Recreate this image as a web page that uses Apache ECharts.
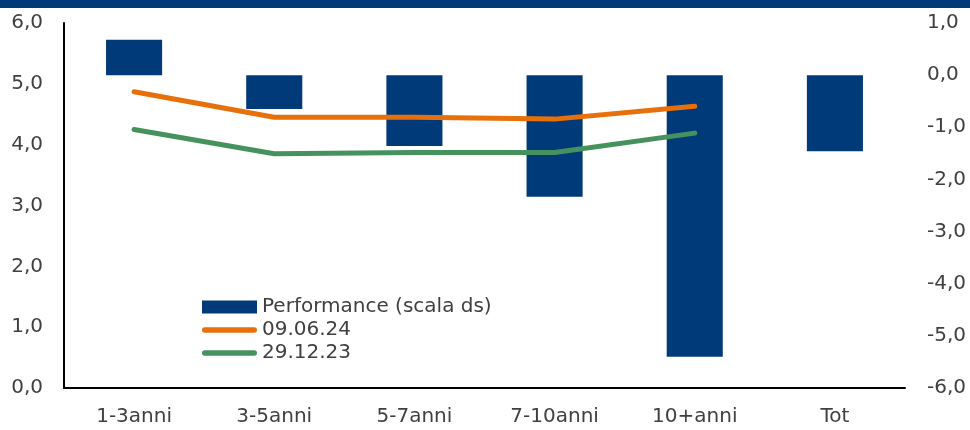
<!DOCTYPE html>
<html>
<head>
<meta charset="utf-8">
<script src="https://cdn.jsdelivr.net/npm/echarts@6/dist/echarts.min.js"></script>
<style>
  html, body { margin: 0; padding: 0; background: #fff; }
  #chart { width: 970px; height: 430px; }
</style>
</head>
<body>
<div id="chart"></div>
<script>
var categories = ['1-3anni', '3-5anni', '5-7anni', '7-10anni', '10+anni', 'Tot'];
var performance = [0.68, -0.65, -1.36, -2.33, -5.40, -1.46];
var serie0906 = [4.87, 4.45, 4.45, 4.42, 4.63, null];
var serie2912 = [4.25, 3.85, 3.87, 3.87, 4.19, null];

var leftTicks = { min: 0, max: 6, interval: 1 };
var rightTicks = { min: -6, max: 1, interval: 1 };

var fontFam = '"DejaVu Sans", sans-serif';
var textCol = '#404040';
// icona legenda: linea spessa con estremi arrotondati
var lineIcon = 'path://M1,0 L19,0 A1,1 0 0 1 19,2 L1,2 A1,1 0 0 1 1,0 Z';

function fmt(v) {
    return v.toFixed(1).replace('.', ',');
}

var myChart = echarts.init(document.getElementById('chart'));
var option = {
    animation: false,
    backgroundColor: '#fff',
    graphic: [
        {
            type: 'rect',
            left: 0,
            top: 0,
            shape: { width: 970, height: 8 },
            style: { fill: '#003a78' }
        }
    ],
    grid: {
        left: 64, right: 65, top: 23, bottom: 42,
        outerBoundsMode: 'none'
    },
    legend: {
        orient: 'vertical',
        left: 197,
        top: 292,
        itemGap: 3,
        itemWidth: 55,
        itemHeight: 13,
        textStyle: { fontFamily: fontFam, fontSize: 20, color: textCol },
        data: [
            { name: 'Performance (scala ds)', icon: 'rect' },
            { name: '09.06.24', icon: lineIcon },
            { name: '29.12.23', icon: lineIcon }
        ]
    },
    xAxis: {
        type: 'category',
        data: categories,
        axisLine: { lineStyle: { color: '#000', width: 2 } },
        axisTick: { show: false },
        axisLabel: { margin: 19, fontFamily: fontFam, fontSize: 20, color: textCol }
    },
    yAxis: [
        {
            type: 'value',
            min: leftTicks.min,
            max: leftTicks.max,
            interval: leftTicks.interval,
            splitLine: { show: false },
            axisTick: { show: false },
            axisLine: { show: true, lineStyle: { color: '#000', width: 2 } },
            axisLabel: { margin: 21, fontFamily: fontFam, fontSize: 20, color: textCol, formatter: fmt }
        },
        {
            type: 'value',
            position: 'right',
            min: rightTicks.min,
            max: rightTicks.max,
            interval: rightTicks.interval,
            splitLine: { show: false },
            axisTick: { show: false },
            axisLine: { show: false },
            axisLabel: {
                margin: 22, align: 'left', fontFamily: fontFam, fontSize: 20,
                color: textCol, formatter: fmt
            }
        }
    ],
    series: [
        {
            name: 'Performance (scala ds)',
            type: 'bar',
            yAxisIndex: 1,
            barWidth: '40%',
            itemStyle: { color: '#003a78' },
            data: performance
        },
        {
            name: '09.06.24',
            type: 'line',
            yAxisIndex: 0,
            symbol: 'none',
            itemStyle: { color: '#e8700a' },
            lineStyle: { color: '#e8700a', width: 5, cap: 'round', join: 'round' },
            data: serie0906
        },
        {
            name: '29.12.23',
            type: 'line',
            yAxisIndex: 0,
            symbol: 'none',
            itemStyle: { color: '#46925f' },
            lineStyle: { color: '#46925f', width: 5, cap: 'round', join: 'round' },
            data: serie2912
        }
    ]
};

myChart.setOption(option);
</script>
</body>
</html>
